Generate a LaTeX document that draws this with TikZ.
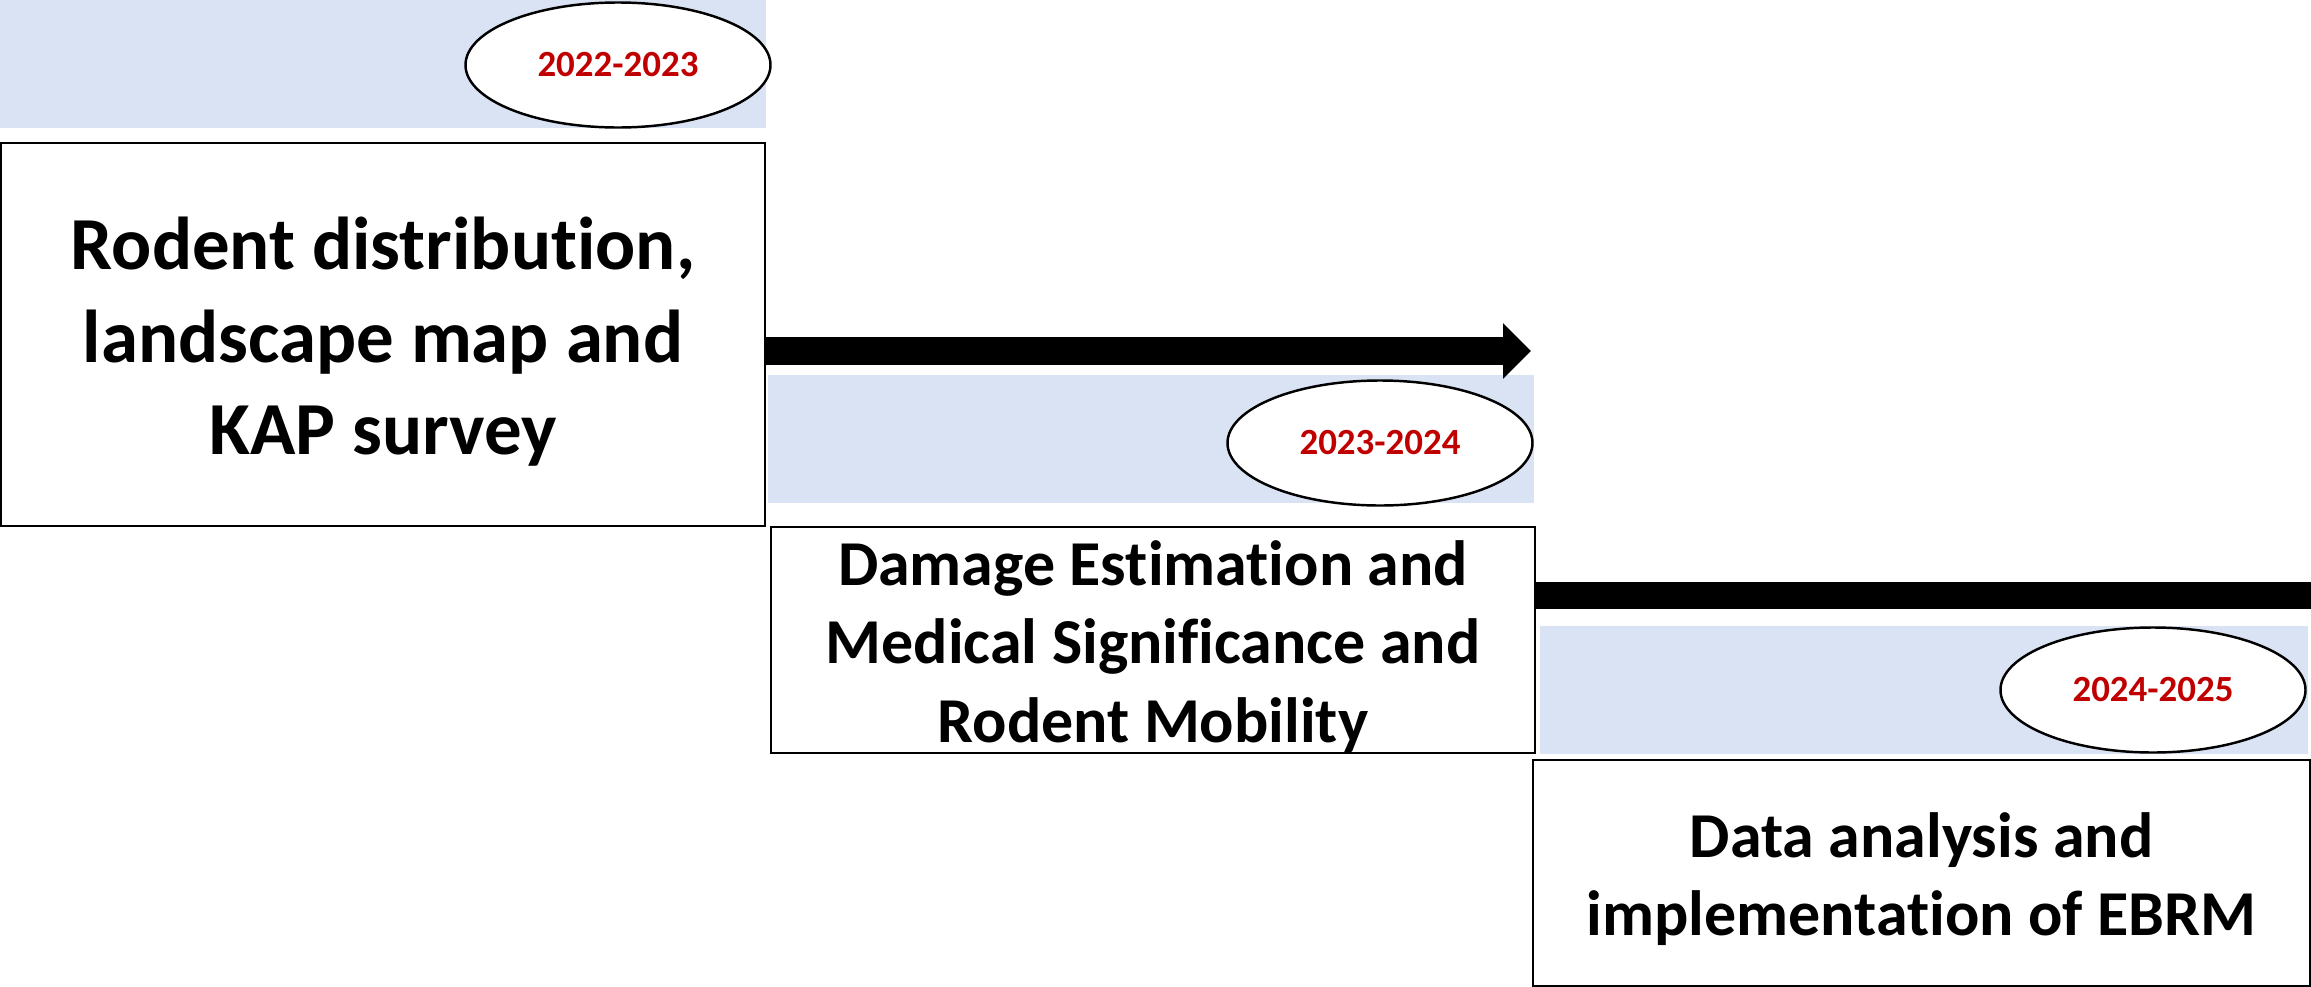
\documentclass[tikz,border=0pt]{standalone}
\usepackage{fontspec}
\setmainfont{Carlito}[Ligatures=NoCommon]
\usepackage{xcolor}
\usetikzlibrary{arrows.meta, positioning, shapes.geometric}
\definecolor{bandblue}{HTML}{DAE3F3}
\definecolor{yearred}{HTML}{C00000}

\begin{document}
\begin{tikzpicture}[x=1cm, y=-1cm,
  band/.style={fill=bandblue, draw=none, inner sep=0pt, minimum height=1.28cm},
  yearoval/.style={ellipse, draw=black, line width=0.7pt, fill=white, minimum width=3.05cm, minimum height=1.25cm, inner sep=0pt, text=yearred, font=\fontsize{10.5}{12}\selectfont\bfseries},
  stagebox/.style={rectangle, draw=black, line width=0.8pt, fill=white, align=center, inner sep=0pt, minimum height=2.26cm, font=\fontsize{18.2}{22.2}\selectfont\bfseries},
  bar/.style={black, line width=0.28cm}
]
\useasboundingbox (0,0) rectangle (23.11,9.87);
\node[band, minimum width=7.66cm] (band1) at (3.83,0.635) {};
\node[band, minimum width=7.66cm] (band2) at (11.51,4.39) {};
\node[band, minimum width=7.68cm] (band3) at (19.24,6.90) {};
\node[yearoval] (year1) at (6.18,0.65) {2022-2023};
\node[yearoval] (year2) at (13.80,4.43) {2023-2024};
\node[yearoval] (year3) at (21.53,6.90) {2024-2025};
\node[stagebox, minimum width=7.64cm, minimum height=3.83cm, font=\fontsize{21.3}{26.2}\selectfont\bfseries] (stage1) at (3.83,3.345) {\rule{0pt}{19pt}Rodent distribution,\\landscape map and\\KAP survey};
\node[stagebox, minimum width=7.64cm] (stage2) at (11.53,6.40) {\rule{0pt}{16.5pt}Damage Estimation and\\Medical Significance and\\Rodent Mobility};
\node[stagebox, minimum width=7.77cm] (stage3) at (19.215,8.73) {\rule{0pt}{16.5pt}Data analysis and\\implementation of EBRM};
\coordinate (tip1) at (15.31,3.51);
\coordinate (end2) at (23.11,5.95);
\draw[bar, -{Triangle[length=0.28cm, width=0.54cm]}] (stage1.east |- tip1) -- (tip1);
\draw[bar, line width=0.27cm] (stage2.east |- end2) -- (end2);
\end{tikzpicture}
\end{document}
